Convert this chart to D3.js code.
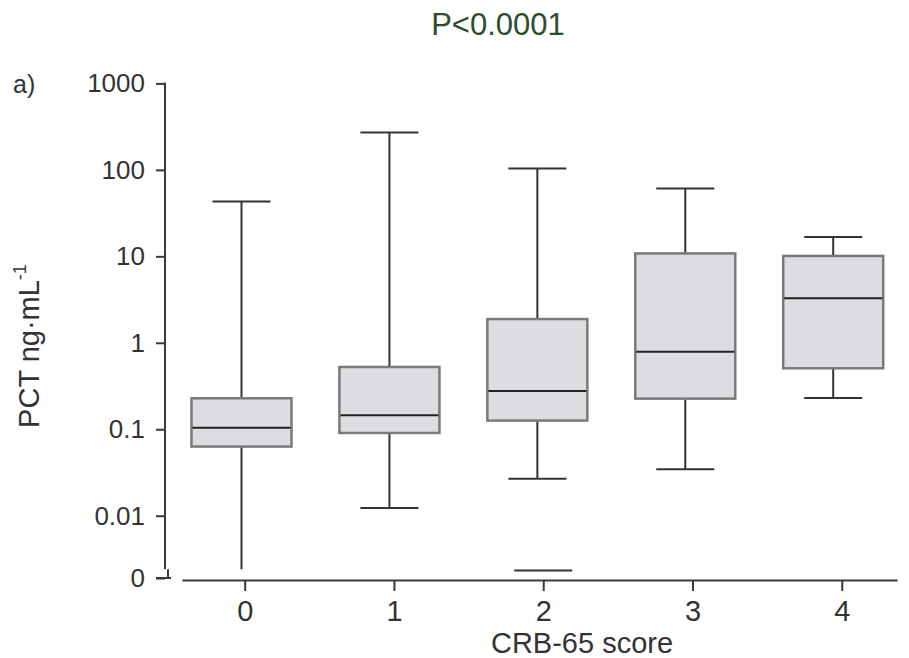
<!DOCTYPE html>
<html>
<head>
<meta charset="utf-8">
<script src="https://cdn.jsdelivr.net/npm/d3@7"></script>
<style>
  body { margin: 0; background: #fff; }
  svg { display: block; font-family: "Liberation Sans", Arial, sans-serif; }
</style>
</head>
<body>
<svg width="909" height="658"></svg>
<script>
var width = 909;
var height = 658;

// CRB-65 groups and box summaries (PCT, ng/mL)
var categories = ["0", "1", "2", "3", "4"];
var whiskerHigh = [43, 270, 104, 61, 16.7];
var q3 = [0.228, 0.525, 1.88, 10.8, 10.1];
var medians = [0.104, 0.145, 0.277, 0.79, 3.27];
var q1 = [0.063, 0.0905, 0.126, 0.226, 0.507];
var whiskerLow = [0.0024, 0.0123, 0.0268, 0.0344, 0.23];
// plotted position of the "0" on the broken log axis
var zeroLevel = 0.0019;
// extra marks drawn at the zero line
var zeroMarkCats = ["2"];
var zeroMarkValues = [0.00232];

var yTickValues = [1000, 100, 10, 1, 0.1, 0.01, zeroLevel];
var yTickLabels = ["1000", "100", "10", "1", "0.1", "0.01", "0"];

var svg = d3.select("svg");

// Scales
var yScale = d3.scaleLog()
               .domain([0.01, 1000])
               .range([515.7, 83.4]);

var xScale = d3.scaleLinear()
               .domain([-0.42, 4.37])
               .range([182, 897]);

// boxes sit a touch left of the ticks in the original
var boxScale = d3.scalePoint()
                 .domain(categories)
                 .range([241.5, 833.2]);

var boxWidth = 100;
var capWidth = 58;
var axisColor = "#3a3a3a";

// Y axis
var yAxis = d3.axisLeft(yScale)
              .tickValues(yTickValues)
              .tickFormat((d, i) => yTickLabels[i])
              .tickSize(9)
              .tickPadding(11);

var gy = svg.append("g")
    .attr("transform", "translate(165,0)")
    .call(yAxis);
gy.select(".domain").remove();
gy.selectAll("line").attr("stroke", axisColor).attr("stroke-width", 2);
gy.selectAll("text")
    .attr("font-size", "26px")
    .attr("fill", "#333");
// axis line stops just above the "0" break
gy.append("line")
    .attr("x1", 0).attr("x2", 0)
    .attr("y1", yScale(1000) - 1)
    .attr("y2", yScale(0.0024))
    .attr("stroke", axisColor)
    .attr("stroke-width", 2);
// little break mark at zero
gy.append("path")
    .attr("d", "M3," + yScale(0.0024) + "V" + (yScale(zeroLevel) + 1) + "M-9," + yScale(zeroLevel) + "H6")
    .attr("fill", "none")
    .attr("stroke", axisColor)
    .attr("stroke-width", 2);

// X axis
var xAxis = d3.axisBottom(xScale)
              .tickValues([0, 1, 2, 3, 4])
              .tickFormat(d => categories[d])
              .tickSize(11)
              .tickSizeOuter(0)
              .tickPadding(9);

var gx = svg.append("g")
    .attr("transform", "translate(0,580)")
    .call(xAxis);
gx.select(".domain").attr("stroke", axisColor).attr("stroke-width", 2);
gx.selectAll("line").attr("stroke", axisColor).attr("stroke-width", 2);
gx.selectAll("text")
    .attr("font-size", "29px")
    .attr("fill", "#333");

// Boxes
var groups = svg.selectAll(".box")
    .data(categories)
    .enter()
    .append("g")
    .attr("class", "box");

// whiskers
groups.append("line")
    .attr("x1", d => boxScale(d)).attr("x2", d => boxScale(d))
    .attr("y1", (d, i) => yScale(whiskerHigh[i]))
    .attr("y2", (d, i) => yScale(q3[i]))
    .attr("stroke", "#333").attr("stroke-width", 2);

groups.append("line")
    .attr("x1", d => boxScale(d)).attr("x2", d => boxScale(d))
    .attr("y1", (d, i) => yScale(q1[i]))
    .attr("y2", (d, i) => yScale(whiskerLow[i]))
    .attr("stroke", "#333").attr("stroke-width", 2);

// caps
groups.append("line")
    .attr("x1", d => boxScale(d) - capWidth / 2)
    .attr("x2", d => boxScale(d) + capWidth / 2)
    .attr("y1", (d, i) => yScale(whiskerHigh[i]))
    .attr("y2", (d, i) => yScale(whiskerHigh[i]))
    .attr("stroke", "#333").attr("stroke-width", 2);

groups.filter((d, i) => whiskerLow[i] > zeroLevel * 2)
  .append("line")
    .attr("x1", d => boxScale(d) - capWidth / 2)
    .attr("x2", d => boxScale(d) + capWidth / 2)
    .attr("y1", d => yScale(whiskerLow[categories.indexOf(d)]))
    .attr("y2", d => yScale(whiskerLow[categories.indexOf(d)]))
    .attr("stroke", "#333").attr("stroke-width", 2);

// box body
groups.append("rect")
    .attr("x", d => boxScale(d) - boxWidth / 2)
    .attr("width", boxWidth)
    .attr("y", (d, i) => yScale(q3[i]))
    .attr("height", (d, i) => yScale(q1[i]) - yScale(q3[i]))
    .attr("fill", "#dcdde0")
    .attr("stroke", "#7a7a7a")
    .attr("stroke-width", 2.5);

// median
groups.append("line")
    .attr("x1", d => boxScale(d) - boxWidth / 2 + 1)
    .attr("x2", d => boxScale(d) + boxWidth / 2 - 1)
    .attr("y1", (d, i) => yScale(medians[i]))
    .attr("y2", (d, i) => yScale(medians[i]))
    .attr("stroke", "#222").attr("stroke-width", 2);

// marks at zero level
svg.selectAll(".zero-mark")
    .data(zeroMarkCats)
    .enter()
    .append("line")
    .attr("class", "zero-mark")
    .attr("x1", d => xScale(+d) - capWidth / 2)
    .attr("x2", d => xScale(+d) + capWidth / 2)
    .attr("y1", (d, i) => yScale(zeroMarkValues[i]))
    .attr("y2", (d, i) => yScale(zeroMarkValues[i]))
    .attr("stroke", "#333").attr("stroke-width", 2);

// Labels
svg.append("text")
    .attr("x", 498)
    .attr("y", 35)
    .attr("font-size", "31px")
    .attr("fill", "#2e4d2e")
    .style("text-anchor", "middle")
    .text("P<0.0001");

svg.append("text")
    .attr("x", 13)
    .attr("y", 93)
    .attr("font-size", "25px")
    .attr("fill", "#333")
    .text("a)");

svg.append("text")
    .attr("x", 582)
    .attr("y", 653)
    .attr("font-size", "29px")
    .attr("fill", "#333")
    .style("text-anchor", "middle")
    .text("CRB-65 score");

var yLabel = svg.append("text")
    .attr("transform", "translate(39,346) rotate(-90)")
    .attr("font-size", "29px")
    .attr("fill", "#333")
    .style("text-anchor", "middle");
yLabel.append("tspan").text("PCT ng\u00b7mL");
yLabel.append("tspan")
    .attr("font-size", "18px")
    .attr("dy", "-0.75em")
    .text("-1");
</script>
</body>
</html>
